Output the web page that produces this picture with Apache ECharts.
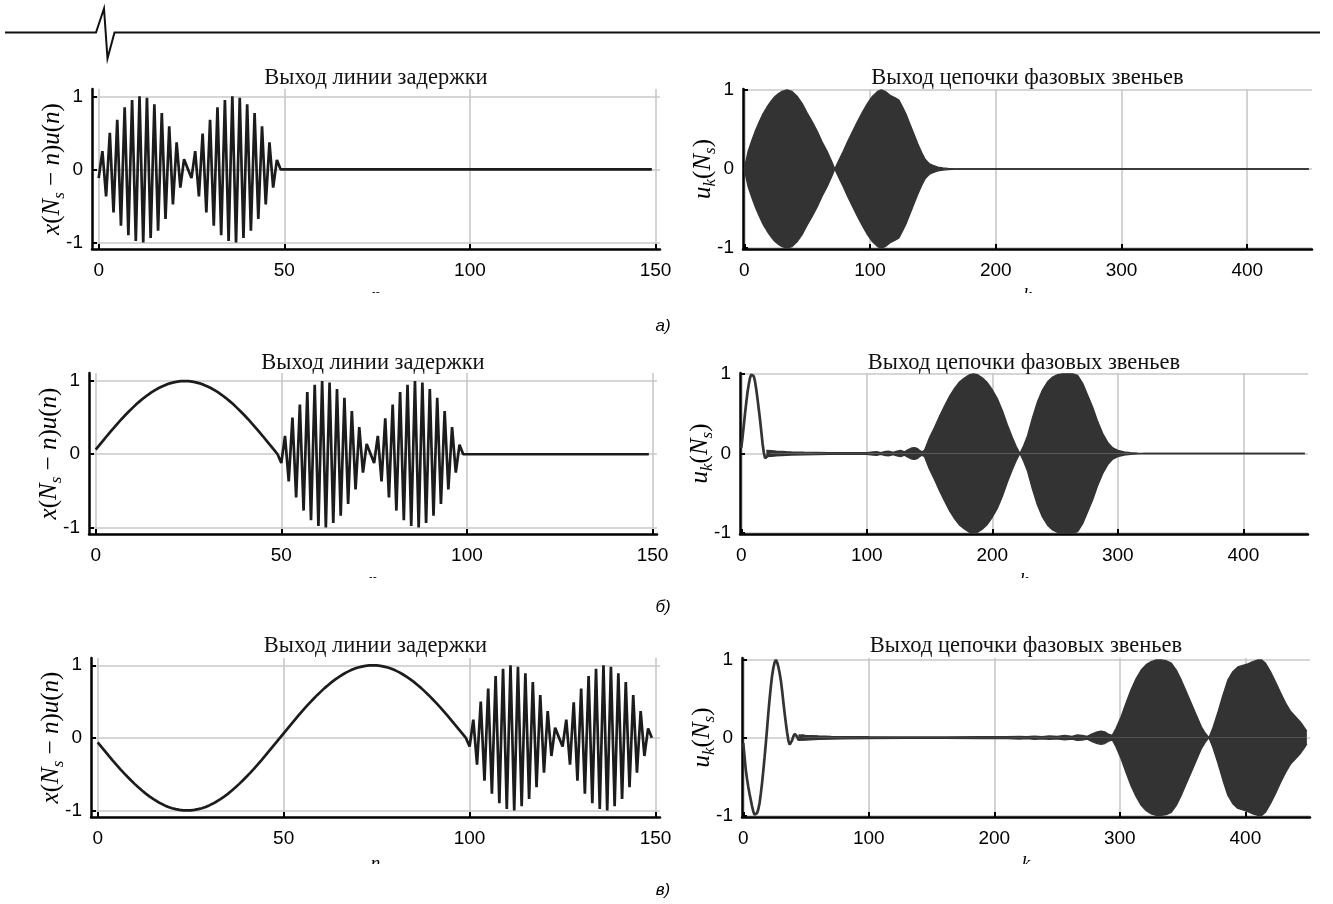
<!DOCTYPE html>
<html><head><meta charset="utf-8">
<script src="https://cdn.jsdelivr.net/npm/echarts@6/dist/echarts.min.js"></script>
<style>html,body{margin:0;padding:0;background:#fff}#c{width:1333px;height:904px}</style>
</head><body><div id="c"></div>
<script>
// ---------- data ----------
const titleLeft = 'Выход линии задержки';
const titleRight = 'Выход цепочки фазовых звеньев';
const panelTags = ['а)', 'б)', 'в)'];
const ticksLeftX = [0, 50, 100, 150];
const ticksRightX = [0, 100, 200, 300, 400];
const ticksY = [-1, 0, 1];

// two-lobe burst, 50 samples (same burst in all three left plots)
const burst = [-0.12, 0.25, -0.37, 0.50, -0.59, 0.68, -0.77, 0.85, -0.90, 0.95,
  -0.98, 1.00, -1.00, 0.98, -0.94, 0.89, -0.84, 0.77, -0.68, 0.59,
  -0.48, 0.37, -0.25, 0.14, 0.01, -0.12, 0.25, -0.37, 0.49, -0.59,
  0.68, -0.77, 0.85, -0.90, 0.95, -0.98, 1.00, -1.00, 0.98, -0.94,
  0.89, -0.84, 0.77, -0.68, 0.59, -0.48, 0.37, -0.25, 0.13, 0.00];
const burstStart = [0, 50, 100];
const leftTailEnd = 149;

// б) slow half wave, n = 0..49
const halfWave = [0.063, 0.125, 0.187, 0.249, 0.309, 0.368, 0.426, 0.482, 0.536, 0.588,
  0.637, 0.685, 0.729, 0.771, 0.809, 0.844, 0.876, 0.905, 0.930, 0.951,
  0.969, 0.982, 0.992, 0.998, 1.000, 0.998, 0.992, 0.982, 0.969, 0.951,
  0.930, 0.905, 0.876, 0.844, 0.809, 0.771, 0.729, 0.685, 0.637, 0.588,
  0.536, 0.482, 0.426, 0.368, 0.309, 0.249, 0.187, 0.125, 0.063, 0.000];

// в) slow full wave, n = 0..99
const fullWave = [-0.063, -0.125, -0.187, -0.249, -0.309, -0.368, -0.426, -0.482, -0.536, -0.588,
  -0.637, -0.685, -0.729, -0.771, -0.809, -0.844, -0.876, -0.905, -0.930, -0.951,
  -0.969, -0.982, -0.992, -0.998, -1.000, -0.998, -0.992, -0.982, -0.969, -0.951,
  -0.930, -0.905, -0.876, -0.844, -0.809, -0.771, -0.729, -0.685, -0.637, -0.588,
  -0.536, -0.482, -0.426, -0.368, -0.309, -0.249, -0.187, -0.125, -0.063, 0.000,
  0.063, 0.125, 0.187, 0.249, 0.309, 0.368, 0.426, 0.482, 0.536, 0.588,
  0.637, 0.685, 0.729, 0.771, 0.809, 0.844, 0.876, 0.905, 0.930, 0.951,
  0.969, 0.982, 0.992, 0.998, 1.000, 0.998, 0.992, 0.982, 0.969, 0.951,
  0.930, 0.905, 0.876, 0.844, 0.809, 0.771, 0.729, 0.685, 0.637, 0.588,
  0.536, 0.482, 0.426, 0.368, 0.309, 0.249, 0.187, 0.125, 0.063, 0.000];

// right plots: initial smooth part (k = 0,1,2,...)
const startB = [0.07, 0.20, 0.35, 0.50, 0.64, 0.77, 0.87, 0.95, 0.99, 1.00,
  0.97, 0.90, 0.80, 0.68, 0.55, 0.42, 0.27, 0.12, 0.01, -0.06, -0.07, -0.03, 0.02];
const startC = [-0.07, -0.24, -0.41, -0.53, -0.63, -0.72, -0.80, -0.88, -0.95, -0.99,
  -1.00, -0.97, -0.92, -0.84, -0.72, -0.58, -0.42, -0.25, -0.07, 0.12,
  0.32, 0.50, 0.66, 0.80, 0.90, 0.97, 1.00, 0.97, 0.91, 0.83,
  0.73, 0.60, 0.45, 0.31, 0.18, 0.06, -0.04, -0.09, -0.08, -0.03,
  0.02, 0.05, 0.04, 0.01, -0.03, -0.03, 0.00, 0.03, 0.02];

// right plots: envelope of the dense oscillation (k, amplitude)
const kEnvA = [0, 3, 6, 9, 12, 15, 18, 21, 24, 27, 30, 34, 38, 42, 46, 50, 54, 58, 62, 66,
  70, 72, 74, 78, 82, 86, 90, 94, 98, 102, 106, 109, 112, 116, 120, 123, 126, 129, 132, 135,
  138, 141, 144, 147, 150, 154, 158, 162, 166, 170, 449];
const envA = [0, 0.22, 0.36, 0.49, 0.6, 0.7, 0.78, 0.85, 0.91, 0.95, 0.98, 1.0, 0.98, 0.92, 0.83, 0.71, 0.6, 0.48, 0.34, 0.22,
  0.08, 0, 0.07, 0.2, 0.34, 0.47, 0.6, 0.72, 0.83, 0.92, 0.98, 1.0, 0.98, 0.93, 0.9, 0.87, 0.78, 0.68, 0.56, 0.44,
  0.32, 0.21, 0.12, 0.07, 0.045, 0.025, 0.013, 0.007, 0.003, 0, 0];

const kEnvB = [20, 24, 28, 32, 36, 40, 50, 60, 70, 80, 90, 100, 105, 108, 111, 115, 118, 121, 124, 127,
  130, 133, 136, 138, 140, 142, 144, 146, 150, 154, 158, 162, 166, 170, 174, 178, 182, 185, 188, 192,
  196, 200, 204, 208, 212, 216, 219, 222, 225, 228, 232, 236, 240, 244, 248, 252, 256, 260, 264, 268,
  272, 276, 280, 284, 288, 292, 296, 300, 305, 310, 316, 322, 449];
const envB = [0.04, 0.035, 0.03, 0.026, 0.022, 0.02, 0.016, 0.014, 0.012, 0.012, 0.012, 0.012, 0.02, 0.022, 0.012, 0.025, 0.028, 0.015, 0.03, 0.038,
  0.02, 0.05, 0.07, 0.075, 0.065, 0.04, 0.02, 0.04, 0.2, 0.33, 0.47, 0.6, 0.72, 0.82, 0.9, 0.95, 0.99, 1.0, 0.99, 0.95,
  0.89, 0.8, 0.69, 0.54, 0.36, 0.2, 0.09, 0.0, 0.1, 0.22, 0.45, 0.65, 0.8, 0.9, 0.96, 0.99, 1.0, 1.0, 1.0, 0.98,
  0.88, 0.73, 0.58, 0.4, 0.25, 0.14, 0.07, 0.04, 0.02, 0.01, 0.004, 0, 0];

const kEnvC = [44, 50, 60, 70, 80, 100, 130, 160, 190, 210, 220, 226, 232, 238, 244, 250, 256, 262, 266, 270,
  274, 278, 282, 285, 288, 291, 294, 297, 301, 305, 309, 313, 317, 321, 325, 329, 333, 337, 341, 345,
  349, 353, 357, 361, 365, 368, 371, 374, 378, 382, 386, 390, 394, 398, 402, 406, 410, 413, 416, 420,
  424, 428, 432, 436, 440, 444, 447, 449];
const envC = [0.035, 0.03, 0.022, 0.018, 0.015, 0.012, 0.01, 0.01, 0.012, 0.012, 0.018, 0.012, 0.02, 0.015, 0.022, 0.016, 0.028, 0.018, 0.035, 0.03,
  0.018, 0.05, 0.075, 0.085, 0.075, 0.045, 0.03, 0.12, 0.27, 0.45, 0.62, 0.76, 0.87, 0.94, 0.98, 1.0, 1.0, 0.99, 0.96, 0.87,
  0.74, 0.59, 0.44, 0.29, 0.14, 0.06, 0, 0.12, 0.32, 0.54, 0.74, 0.85, 0.91, 0.93, 0.95, 0.98, 1.0, 1.0, 0.96, 0.85,
  0.72, 0.58, 0.45, 0.34, 0.27, 0.2, 0.13, 0.08];

// ---------- build ----------
function seq(start, vals) { return vals.map((v, i) => [start + i, v]); }
function band(ks, env, sign) { return ks.map((k, i) => [k, sign * env[i]]); }

const dataL = [
  seq(burstStart[0], burst).concat([[leftTailEnd, 0]]),
  seq(0, halfWave).concat(seq(burstStart[1], burst), [[leftTailEnd, 0]]),
  seq(0, fullWave).concat(seq(burstStart[2], burst))
];
const envs = [[kEnvA, envA], [kEnvB, envB], [kEnvC, envC]];
const starts = [null, startB, startC];

const gridBoxes = [
  {left: 92, top: 89, width: 568, height: 160}, {left: 743, top: 89, width: 569, height: 160},
  {left: 89, top: 373, width: 568, height: 161}, {left: 740, top: 373, width: 568, height: 161},
  {left: 91, top: 658, width: 569, height: 159}, {left: 742, top: 658, width: 568, height: 159}
];
const yRangeL = [[-1.09, 1.1], [-1.09, 1.11], [-1.09, 1.1]];
const yRangeR = [[-1.01, 1.01], [-1.01, 1.01], [-1.02, 1.025]];

const serif = 'Liberation Serif';
const sans = 'Liberation Sans';

function axisBase(gi, min, max, split, ticks) {
  return {
    type: 'value', gridIndex: gi, min: min, max: max, splitNumber: split,
    nameMoveOverlap: false,
    axisLine: {show: true, onZero: false, lineStyle: {color: '#000', width: 2.5}},
    axisTick: {show: true, inside: true, length: 5, customValues: ticks, lineStyle: {color: '#000', width: 2}},
    axisLabel: {show: true, color: '#000', fontFamily: sans, fontSize: 19, margin: 12,
      customValues: ticks, showMinLabel: true, showMaxLabel: true},
    splitLine: {show: true, showMinLine: true, showMaxLine: true, lineStyle: {color: '#c8c8c8', width: 1.6}}
  };
}
const richY = {
  i: {fontFamily: serif, fontStyle: 'italic', fontSize: 25, color: '#000', lineHeight: 32, verticalAlign: 'middle'},
  r: {fontFamily: serif, fontSize: 25, color: '#000', lineHeight: 32, verticalAlign: 'middle'},
  s: {fontFamily: serif, fontStyle: 'italic', fontSize: 17, color: '#000', lineHeight: 17, verticalAlign: 'bottom'}
};
const nameLeftY = '{i|x}{r|(}{i|N}{s|s}{r| − }{i|n}{r|)}{i|u}{r|(}{i|n}{r|)}';
const nameRightY = '{i|u}{s|k}{r|(}{i|N}{s|s}{r|)}';
const xNameStyle = {fontFamily: serif, fontStyle: 'italic', fontSize: 19, color: '#000'};

const xAxes = [], yAxes = [], series = [];
for (let p = 0; p < 3; p++) {
  const gl = 2 * p, gr = 2 * p + 1;
  const xl = axisBase(gl, -1.8, 151.2, 3, ticksLeftX);
  Object.assign(xl, {name: 'n', nameLocation: 'middle', nameGap: 37, nameTextStyle: xNameStyle});
  const xr = axisBase(gr, -1, 451.5, 4, ticksRightX);
  Object.assign(xr, {name: 'k', nameLocation: 'middle', nameGap: 37, nameTextStyle: xNameStyle});
  xAxes.push(xl, xr);
  const yl = axisBase(gl, yRangeL[p][0], yRangeL[p][1], 2, ticksY);
  Object.assign(yl, {name: nameLeftY, nameLocation: 'middle', nameRotate: 90, nameGap: 24,
    nameTextStyle: {rich: richY}});
  yl.axisLabel.margin = 9;
  const yr = axisBase(gr, yRangeR[p][0], yRangeR[p][1], 2, ticksY);
  Object.assign(yr, {name: nameRightY, nameLocation: 'middle', nameRotate: 90, nameGap: 24,
    nameTextStyle: {rich: richY}});
  yr.axisLabel.margin = 9;
  yAxes.push(yl, yr);

  series.push({type: 'line', xAxisIndex: gl, yAxisIndex: gl, data: dataL[p], showSymbol: false, symbol: 'none',
    lineStyle: {color: '#1c1c1c', width: 2.7}, z: 3, animation: false});
  const [ks, ev] = envs[p];
  [1, -1].forEach(sg => {
    series.push({type: 'line', xAxisIndex: gr, yAxisIndex: gr, data: band(ks, ev, sg), showSymbol: false, symbol: 'none',
      lineStyle: {color: '#333', width: 1.3}, areaStyle: {color: '#333', opacity: 1, origin: 0}, z: 2, animation: false});
  });
  if (starts[p]) {
    series.push({type: 'line', xAxisIndex: gr, yAxisIndex: gr, data: seq(0, starts[p]), showSymbol: false, symbol: 'none',
      lineStyle: {color: '#333', width: 2.7}, z: 3, animation: false});
  }
}

// graphic: decoration, titles, panel tags
const graphics = [{
  type: 'polyline', shape: {points: [[5, 32.5], [96, 32.5], [104, 8.5], [107.5, 58.5], [114.5, 32.5], [1320, 32.5]]},
  style: {stroke: '#111', lineWidth: 2, fill: null}, z: 100
}];
const titleY = [78, 363, 646];
for (let p = 0; p < 3; p++) {
  const L = gridBoxes[2 * p], R = gridBoxes[2 * p + 1];
  graphics.push({type: 'text', x: L.left + L.width / 2, y: titleY[p], z: 100,
    style: {text: titleLeft, font: '22.5px "' + serif + '"', fill: '#111', textAlign: 'center', textVerticalAlign: 'middle'}});
  graphics.push({type: 'text', x: R.left + R.width / 2, y: titleY[p], z: 100,
    style: {text: titleRight, font: '22.5px "' + serif + '"', fill: '#111', textAlign: 'center', textVerticalAlign: 'middle'}});
}
const tagY = [326, 607, 890];
for (let p = 0; p < 3; p++) {
  graphics.push({type: 'text', x: 663, y: tagY[p], z: 100,
    style: {text: panelTags[p], font: 'italic 17px "' + sans + '"', fill: '#000', textAlign: 'center', textVerticalAlign: 'middle'}});
}
// cropped look of the x-axis names (covered below their top)
const cutY = [293, 578, 864];
for (let p = 0; p < 3; p++) {
  graphics.push({type: 'rect', shape: {x: 350, y: cutY[p], width: 50, height: 18}, style: {fill: '#fff'}, z: 100});
  graphics.push({type: 'rect', shape: {x: 1000, y: cutY[p], width: 55, height: 18}, style: {fill: '#fff'}, z: 100});
}

const chart = echarts.init(document.getElementById('c'), null, {renderer: 'canvas'});
chart.setOption({
  backgroundColor: '#fff',
  animation: false,
  grid: gridBoxes.map(g => Object.assign({containLabel: false}, g)),
  xAxis: xAxes,
  yAxis: yAxes,
  series: series,
  graphic: {elements: graphics}
});
</script>
</body></html>
